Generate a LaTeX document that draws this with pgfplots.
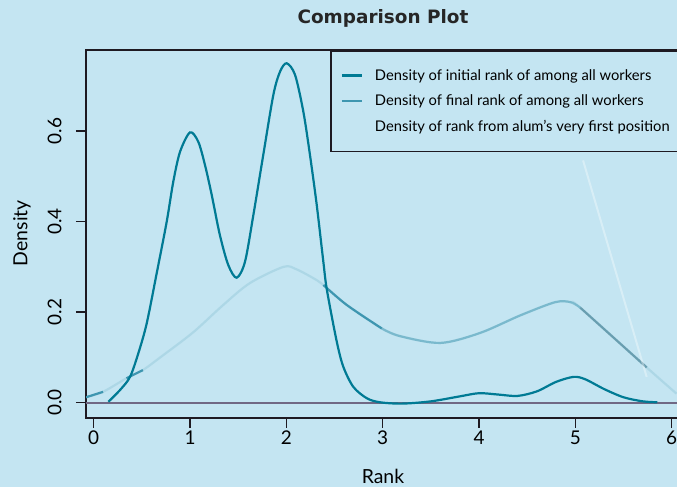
\documentclass[border=0pt]{standalone}
\usepackage{pgfplots}
\pgfplotsset{compat=1.18}
\usepackage{fontspec}
\setmainfont{Lato}
\newfontfamily\titlefont{DejaVu Sans}
\definecolor{bg}{RGB}{196,229,242}
\definecolor{c1}{RGB}{0,122,148}
\definecolor{c2}{RGB}{62,150,176}
\definecolor{c2d}{RGB}{70,128,148}
\definecolor{frame}{RGB}{30,26,34}
\definecolor{base}{RGB}{112,104,132}
\begin{document}
\begin{tikzpicture}
\useasboundingbox (0,0) rectangle (677bp,487bp);
\clip (0,0) rectangle (677bp,487bp);
\fill[bg] (0,0) rectangle (677bp,487bp);
\node[font=\titlefont\fontsize{18.5}{21}\selectfont\bfseries, text=black!85] at (383bp,469bp) {Comparison Plot};
\begin{axis}[
  at={(86bp,69.3bp)}, anchor=south west,
  scale only axis, width=614.6bp, height=367.7bp,
  xmin=-0.08, xmax=6.3, ymin=-0.0331, ymax=0.7789,
  axis line style={frame, line width=1.6bp},
  tick style={frame, line width=1.3bp},
  tick align=outside, major tick length=10bp,
  xtick pos=bottom, ytick pos=left,
  xtick={0,1,2,3,4,5,6}, ytick={0,0.2,0.4,0.6},
  /pgf/number format/assume math mode=true,
  ticklabel style={font=\fontsize{19}{22}\selectfont},
  yticklabel style={rotate=90, anchor=south, /pgf/number format/.cd, fixed, fixed zerofill, precision=1},
  yticklabel shift=11bp,
  xlabel={Rank}, ylabel={Density},
  label style={font=\fontsize{19.5}{22}\selectfont},
  xlabel style={at={(rel axis cs:0.4832,-0.1595)}, anchor=center, inner sep=0pt},
  ylabel style={at={(rel axis cs:-0.1041,0.502)}, anchor=center},
  legend style={at={(rel axis cs:0.397,1)}, anchor=north west, draw=frame, line width=1.6bp,
    fill=bg, font=\fontsize{14.8}{17}\selectfont, inner xsep=10bp, inner ysep=16.5bp, row sep=9.2bp,
    cells={anchor=west}, /tikz/every odd column/.append style={column sep=10bp}},
  legend image code/.code={\draw[#1] (0bp,0bp) -- (20bp,0bp);},
]
\addplot[base, line width=1.8bp, forget plot] coordinates {(-0.08,0) (6.3,0)};
% curve 2 full (faint)
\addplot[c2, line width=2.2bp, smooth, opacity=0.17, forget plot] coordinates {
(-0.08,0.012) (0.097,0.024) (0.34,0.054) (0.51,0.072) (0.69,0.10) (1.03,0.155) (1.34,0.215)
(1.62,0.264) (1.97,0.30) (2.1,0.295) (2.28,0.275) (2.384,0.26) (2.626,0.216) (2.99,0.164)
(3.18,0.147) (3.6,0.132) (4.01,0.154) (4.43,0.193) (4.79,0.222) (4.95,0.222) (5.05,0.21)
(5.74,0.078) (6.05,0.02)};
\addplot[c2, line width=2.2bp, smooth, opacity=0.45, forget plot] coordinates {
(2.99,0.164) (3.18,0.147) (3.6,0.132) (4.01,0.154) (4.43,0.193) (4.79,0.222) (4.95,0.222) (5.05,0.21)};
\addplot[c2d, line width=2.2bp, opacity=0.65, forget plot] coordinates {(5.05,0.21) (5.74,0.078)};
\addplot[c2, line width=2.2bp, smooth, forget plot] coordinates {(2.384,0.26) (2.626,0.216) (2.99,0.164)};
\addplot[c2, line width=2.2bp, forget plot] coordinates {(-0.08,0.012) (0.097,0.024)};
\addplot[c2, line width=2.2bp, forget plot] coordinates {(0.34,0.054) (0.51,0.072)};
% curve 3 ghost
\addplot[white, line width=2bp, opacity=0.35, forget plot] coordinates {(5.08,0.535) (5.74,0.057)};
% curve 1
\addplot[c1, line width=2.2bp, smooth] coordinates {
(0.152,0.002) (0.273,0.028) (0.377,0.057) (0.463,0.109) (0.55,0.175) (0.654,0.286)
(0.758,0.40) (0.826,0.488) (0.896,0.554) (1.0,0.597) (1.086,0.576) (1.155,0.525)
(1.225,0.459) (1.31,0.37) (1.397,0.304) (1.484,0.276) (1.57,0.311) (1.657,0.414)
(1.76,0.547) (1.865,0.68) (1.934,0.731) (2.003,0.7496) (2.09,0.724) (2.176,0.643)
(2.245,0.547) (2.315,0.437) (2.384,0.311) (2.42,0.25) (2.52,0.138) (2.59,0.08)
(2.695,0.035) (2.834,0.01) (2.97,0.001) (3.2,-0.002) (3.5,0.003) (3.8,0.014) (4.0,0.021)
(4.2,0.018) (4.4,0.015) (4.6,0.025) (4.8,0.046) (4.98,0.057) (5.1,0.052) (5.3,0.03)
(5.5,0.012) (5.7,0.003) (5.85,0.001)};
\addlegendentry{Density of initial rank of among all workers}
\addlegendimage{c2, line width=2.2bp}
\addlegendentry{Density of final rank of among all workers}
\addlegendimage{bg, line width=2.2bp}
\addlegendentry{Density of rank from alum’s very first position}
\end{axis}
\end{tikzpicture}
\end{document}
